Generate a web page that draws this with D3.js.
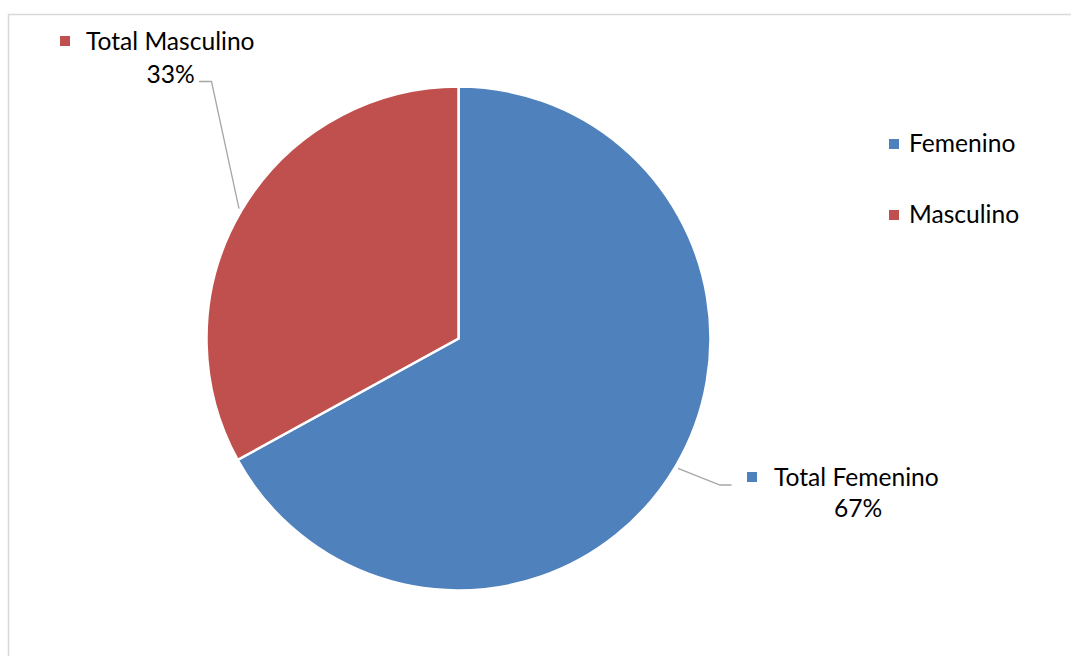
<!DOCTYPE html>
<html>
<head>
<meta charset="utf-8">
<script src="https://cdn.jsdelivr.net/npm/d3@7"></script>
<style>
  html, body { margin: 0; padding: 0; background: #fff; }
  svg { display: block; }
  text { font-family: Lato, "Open Sans", sans-serif; fill: #000; }
</style>
</head>
<body>
<svg id="chart" width="1071" height="656"></svg>
<script>
const categories = ["Femenino", "Masculino"];
const labelNames = ["Total Femenino", "Total Masculino"];
const values = [67, 33];
const colors = ["#4F81BD", "#C0504D"];

const svg = d3.select("#chart");
const fontSize = 24.6;

// chart border (extends past the window on right and bottom)
svg.append("rect")
  .attr("x", 8.5).attr("y", 14.5)
  .attr("width", 1100).attr("height", 700)
  .attr("fill", "none").attr("stroke", "#D9D9D9").attr("stroke-width", 1.5);

const cx = 458.5, cy = 338.5, r = 252;
const g = svg.append("g").attr("transform", `translate(${cx},${cy})`);

const pie = d3.pie().sort(null).value(d => d)(values);
const arc = d3.arc().innerRadius(0).outerRadius(r);

g.selectAll("path.slice").data(pie).join("path")
  .attr("class", "slice")
  .attr("d", arc)
  .attr("fill", (d, i) => colors[i])
  .attr("stroke", "#fff").attr("stroke-width", 2.5).attr("stroke-linejoin", "miter");

const fmt = d3.format(".0%");
const total = d3.sum(values);

// data labels with leader lines (label anchor positions are layout)
const labelLayout = [
  { elbow: [720, 485], end: [731.5, 485], sq: [747, 472], textX: 774, textY: 486, pctX: 858, pctY: 517 },
  { elbow: [211.5, 81.5], end: [199, 81.5], sq: [60, 36], textX: 86, textY: 50, pctX: 170.5, pctY: 83 }
];
const outer = d3.arc().innerRadius(r + 3).outerRadius(r + 3);

pie.forEach((d, i) => {
  const L = labelLayout[i];
  const p = outer.centroid(d);
  const start = [cx + p[0], cy + p[1]];
  svg.append("path")
    .attr("d", d3.line()([start, L.elbow, L.end]))
    .attr("fill", "none").attr("stroke", "#A6A6A6").attr("stroke-width", 1.3);
  svg.append("rect")
    .attr("x", L.sq[0]).attr("y", L.sq[1]).attr("width", 10).attr("height", 10)
    .attr("fill", colors[i]);
  svg.append("text")
    .attr("x", L.textX).attr("y", L.textY)
    .attr("font-size", fontSize)
    .text(labelNames[i]);
  svg.append("text")
    .attr("x", L.pctX).attr("y", L.pctY)
    .attr("text-anchor", "middle")
    .attr("font-size", fontSize)
    .text(fmt(d.data / total));
});

// legend
const legend = svg.append("g").attr("transform", "translate(889,139)");
const item = legend.selectAll("g").data(categories).join("g")
  .attr("transform", (d, i) => `translate(0,${i * 71})`);
item.append("rect").attr("width", 10).attr("height", 10)
  .attr("fill", (d, i) => colors[i]);
item.append("text").attr("x", 20).attr("y", 13)
  .attr("font-size", fontSize)
  .text(d => d);
</script>
</body>
</html>
